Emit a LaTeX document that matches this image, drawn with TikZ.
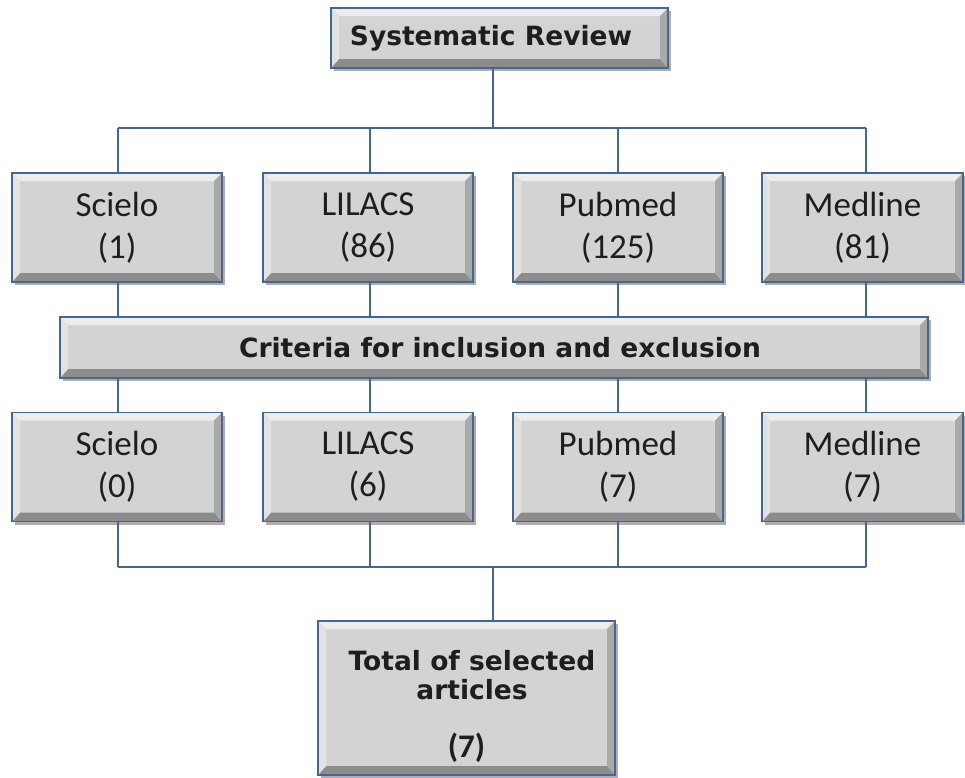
\documentclass[tikz,border=0pt]{standalone}
\usepackage{fontspec}
\newfontfamily\verdfont{DejaVu Sans}
\newfontfamily\calfont{Carlito}
\usetikzlibrary{shadows}
\definecolor{boxgray}{HTML}{D3D3D3}
\definecolor{bevlight}{HTML}{EDEDED}
\definecolor{bevleft}{HTML}{E2E2E2}
\definecolor{bevright}{HTML}{A9A9A9}
\definecolor{bevdark}{HTML}{8C8C8C}
\definecolor{linecol}{HTML}{46658F}
\definecolor{txt}{HTML}{1E1E1E}
\tikzset{
  bevelbox/.style={draw=linecol, line width=1.4pt, fill=boxgray, inner sep=0pt,
    text=txt, align=center,
    drop shadow={shadow xshift=3pt, shadow yshift=-3pt, opacity=0.45, fill=black!70},
    path picture={
      \coordinate (pnw) at (path picture bounding box.north west);
      \coordinate (pne) at (path picture bounding box.north east);
      \coordinate (psw) at (path picture bounding box.south west);
      \coordinate (pse) at (path picture bounding box.south east);
      \fill[bevlight] (pnw) -- (pne) -- ([xshift=-8pt,yshift=-8pt]pne) -- ([xshift=8pt,yshift=-8pt]pnw) -- cycle;
      \fill[bevdark] (psw) -- (pse) -- ([xshift=-8pt,yshift=9pt]pse) -- ([xshift=8pt,yshift=9pt]psw) -- cycle;
      \fill[bevleft] (pnw) -- (psw) -- ([xshift=8pt,yshift=9pt]psw) -- ([xshift=8pt,yshift=-8pt]pnw) -- cycle;
      \fill[bevright] (pne) -- (pse) -- ([xshift=-8pt,yshift=9pt]pse) -- ([xshift=-8pt,yshift=-8pt]pne) -- cycle;
    }},
  dbbox/.style={bevelbox, minimum width=210pt, minimum height=109pt,
    font=\calfont\fontsize{35}{42}\selectfont},
  boldtxt/.style={font=\verdfont\bfseries\fontsize{26.5}{29}\selectfont, text=txt, align=center},
  conn/.style={draw=linecol, line width=1.4pt},
}
\begin{document}
\begin{tikzpicture}[x=1pt,y=-1pt]
\useasboundingbox[fill=white] (0,0) rectangle (965,777);

\node[bevelbox, minimum width=337pt, minimum height=60pt] (top) at (499.5,38) {};
\node[boldtxt] (toplbl) at (491,38) {Systematic Review};

\node[dbbox] (s1) at (117,227.5) {Scielo\\(1)};
\node[dbbox] (l1) at (368,227.5) {LILACS\\(86)};
\node[dbbox] (p1) at (618,227.5) {Pubmed\\(125)};
\node[dbbox, minimum width=201pt] (m1) at (862.5,227.5) {Medline\\(81)};

\node[bevelbox, minimum width=868pt, minimum height=61pt] (crit) at (494,347.5) {};
\node[boldtxt] (critlbl) at (500,347.5) {Criteria for inclusion and exclusion};

\node[dbbox] (s2) at (117,467) {Scielo\\(0)};
\node[dbbox] (l2) at (368,467) {LILACS\\(6)};
\node[dbbox] (p2) at (618,467) {Pubmed\\(7)};
\node[dbbox, minimum width=201pt] (m2) at (862.5,467) {Medline\\(7)};

\node[bevelbox, minimum width=297pt, minimum height=154pt] (tot) at (466.5,698) {};
\node[boldtxt] (totlbl) at (472,675) {Total of selected\\articles};
\node[text=txt, font=\calfont\bfseries\fontsize{33}{36}\selectfont] (totn) at (466.5,748) {(7)};

\coordinate (bus1) at (493,128);
\coordinate (bus2) at (493,567);
\coordinate (c1) at (118,0);
\coordinate (c2) at (370,0);
\coordinate (c3) at (618,0);
\coordinate (c4) at (866,0);

\draw[conn] (top.south -| bus1) -- (bus1);
\draw[conn] (bus1 -| c1) -- (bus1 -| c4);
\foreach \c/\n in {c1/s1,c2/l1,c3/p1,c4/m1} {
  \draw[conn] (bus1 -| \c) -- (\n.north -| \c);
  \draw[conn] (\n.south -| \c) -- (crit.north -| \c);
}
\foreach \c/\n in {c1/s2,c2/l2,c3/p2,c4/m2} {
  \draw[conn] (crit.south -| \c) -- (\n.north -| \c);
  \draw[conn] (\n.south -| \c) -- (bus2 -| \c);
}
\draw[conn] (bus2 -| c1) -- (bus2 -| c4);
\draw[conn] (bus2) -- (tot.north -| bus2);
\end{tikzpicture}
\end{document}
